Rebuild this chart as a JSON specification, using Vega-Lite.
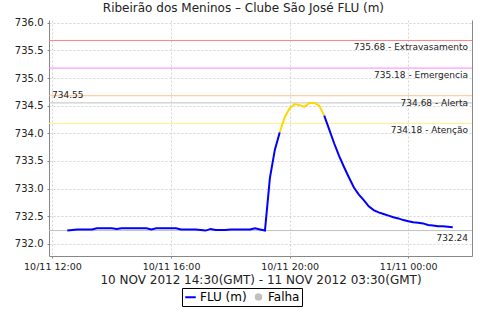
{
  "$schema": "https://vega.github.io/schema/vega-lite/v6.json",
  "width": 423,
  "height": 236,
  "autosize": {"type": "none"},
  "padding": {"left": 49, "top": 20, "right": 8, "bottom": 64},
  "background": "white",
  "title": {
    "text": "Ribeirão dos Meninos – Clube São José FLU (m)",
    "font": "DejaVu Sans",
    "fontSize": 12,
    "fontWeight": "normal",
    "color": "#222222",
    "anchor": "middle",
    "frame": "bounds",
    "offset": 3
  },
  "config": {
    "font": "DejaVu Sans",
    "view": {"stroke": null},
    "axis": {
      "gridDash": [2, 2],
      "gridColor": "#d4d4d4",
      "domainColor": "#888888",
      "tickColor": "#888888",
      "tickSize": 2,
      "labelColor": "#222222",
      "labelFont": "DejaVu Sans",
      "titleFont": "DejaVu Sans"
    }
  },
  "datasets": {
    "serie": [
      {"t": "2012-11-10T12:30:00Z", "v": 732.24, "serie": "FLU (m)", "seg": 1},
      {"t": "2012-11-10T12:40:00Z", "v": 732.25, "serie": "FLU (m)", "seg": 1},
      {"t": "2012-11-10T12:50:00Z", "v": 732.26, "serie": "FLU (m)", "seg": 1},
      {"t": "2012-11-10T13:00:00Z", "v": 732.26, "serie": "FLU (m)", "seg": 1},
      {"t": "2012-11-10T13:10:00Z", "v": 732.26, "serie": "FLU (m)", "seg": 1},
      {"t": "2012-11-10T13:20:00Z", "v": 732.26, "serie": "FLU (m)", "seg": 1},
      {"t": "2012-11-10T13:30:00Z", "v": 732.28, "serie": "FLU (m)", "seg": 1},
      {"t": "2012-11-10T13:40:00Z", "v": 732.28, "serie": "FLU (m)", "seg": 1},
      {"t": "2012-11-10T13:50:00Z", "v": 732.28, "serie": "FLU (m)", "seg": 1},
      {"t": "2012-11-10T14:00:00Z", "v": 732.28, "serie": "FLU (m)", "seg": 1},
      {"t": "2012-11-10T14:10:00Z", "v": 732.27, "serie": "FLU (m)", "seg": 1},
      {"t": "2012-11-10T14:20:00Z", "v": 732.28, "serie": "FLU (m)", "seg": 1},
      {"t": "2012-11-10T14:30:00Z", "v": 732.28, "serie": "FLU (m)", "seg": 1},
      {"t": "2012-11-10T14:40:00Z", "v": 732.28, "serie": "FLU (m)", "seg": 1},
      {"t": "2012-11-10T14:50:00Z", "v": 732.28, "serie": "FLU (m)", "seg": 1},
      {"t": "2012-11-10T15:00:00Z", "v": 732.28, "serie": "FLU (m)", "seg": 1},
      {"t": "2012-11-10T15:10:00Z", "v": 732.28, "serie": "FLU (m)", "seg": 1},
      {"t": "2012-11-10T15:20:00Z", "v": 732.26, "serie": "FLU (m)", "seg": 1},
      {"t": "2012-11-10T15:30:00Z", "v": 732.28, "serie": "FLU (m)", "seg": 1},
      {"t": "2012-11-10T15:40:00Z", "v": 732.28, "serie": "FLU (m)", "seg": 1},
      {"t": "2012-11-10T15:50:00Z", "v": 732.28, "serie": "FLU (m)", "seg": 1},
      {"t": "2012-11-10T16:00:00Z", "v": 732.28, "serie": "FLU (m)", "seg": 1},
      {"t": "2012-11-10T16:10:00Z", "v": 732.28, "serie": "FLU (m)", "seg": 1},
      {"t": "2012-11-10T16:20:00Z", "v": 732.26, "serie": "FLU (m)", "seg": 1},
      {"t": "2012-11-10T16:30:00Z", "v": 732.26, "serie": "FLU (m)", "seg": 1},
      {"t": "2012-11-10T16:40:00Z", "v": 732.26, "serie": "FLU (m)", "seg": 1},
      {"t": "2012-11-10T16:50:00Z", "v": 732.26, "serie": "FLU (m)", "seg": 1},
      {"t": "2012-11-10T17:00:00Z", "v": 732.25, "serie": "FLU (m)", "seg": 1},
      {"t": "2012-11-10T17:10:00Z", "v": 732.24, "serie": "FLU (m)", "seg": 1},
      {"t": "2012-11-10T17:20:00Z", "v": 732.27, "serie": "FLU (m)", "seg": 1},
      {"t": "2012-11-10T17:30:00Z", "v": 732.25, "serie": "FLU (m)", "seg": 1},
      {"t": "2012-11-10T17:40:00Z", "v": 732.25, "serie": "FLU (m)", "seg": 1},
      {"t": "2012-11-10T17:50:00Z", "v": 732.25, "serie": "FLU (m)", "seg": 1},
      {"t": "2012-11-10T18:00:00Z", "v": 732.26, "serie": "FLU (m)", "seg": 1},
      {"t": "2012-11-10T18:10:00Z", "v": 732.26, "serie": "FLU (m)", "seg": 1},
      {"t": "2012-11-10T18:20:00Z", "v": 732.26, "serie": "FLU (m)", "seg": 1},
      {"t": "2012-11-10T18:30:00Z", "v": 732.26, "serie": "FLU (m)", "seg": 1},
      {"t": "2012-11-10T18:40:00Z", "v": 732.26, "serie": "FLU (m)", "seg": 1},
      {"t": "2012-11-10T18:50:00Z", "v": 732.28, "serie": "FLU (m)", "seg": 1},
      {"t": "2012-11-10T19:00:00Z", "v": 732.26, "serie": "FLU (m)", "seg": 1},
      {"t": "2012-11-10T19:10:00Z", "v": 732.24, "serie": "FLU (m)", "seg": 1},
      {"t": "2012-11-10T19:20:00Z", "v": 733.19, "serie": "FLU (m)", "seg": 1},
      {"t": "2012-11-10T19:30:00Z", "v": 733.70, "serie": "FLU (m)", "seg": 1},
      {"t": "2012-11-10T19:40:00Z", "v": 734.02, "serie": "FLU (m)", "seg": 1},
      {"t": "2012-11-10T19:40:00Z", "v": 734.02, "serie": "Atenção", "seg": 2},
      {"t": "2012-11-10T19:50:00Z", "v": 734.29, "serie": "Atenção", "seg": 2},
      {"t": "2012-11-10T20:00:00Z", "v": 734.45, "serie": "Atenção", "seg": 2},
      {"t": "2012-11-10T20:10:00Z", "v": 734.53, "serie": "Atenção", "seg": 2},
      {"t": "2012-11-10T20:20:00Z", "v": 734.51, "serie": "Atenção", "seg": 2},
      {"t": "2012-11-10T20:30:00Z", "v": 734.48, "serie": "Atenção", "seg": 2},
      {"t": "2012-11-10T20:40:00Z", "v": 734.55, "serie": "Atenção", "seg": 2},
      {"t": "2012-11-10T20:50:00Z", "v": 734.55, "serie": "Atenção", "seg": 2},
      {"t": "2012-11-10T21:00:00Z", "v": 734.50, "serie": "Atenção", "seg": 2},
      {"t": "2012-11-10T21:10:00Z", "v": 734.32, "serie": "Atenção", "seg": 2},
      {"t": "2012-11-10T21:10:00Z", "v": 734.32, "serie": "FLU (m)", "seg": 3},
      {"t": "2012-11-10T21:20:00Z", "v": 734.07, "serie": "FLU (m)", "seg": 3},
      {"t": "2012-11-10T21:30:00Z", "v": 733.82, "serie": "FLU (m)", "seg": 3},
      {"t": "2012-11-10T21:40:00Z", "v": 733.59, "serie": "FLU (m)", "seg": 3},
      {"t": "2012-11-10T21:50:00Z", "v": 733.39, "serie": "FLU (m)", "seg": 3},
      {"t": "2012-11-10T22:00:00Z", "v": 733.20, "serie": "FLU (m)", "seg": 3},
      {"t": "2012-11-10T22:10:00Z", "v": 733.02, "serie": "FLU (m)", "seg": 3},
      {"t": "2012-11-10T22:20:00Z", "v": 732.89, "serie": "FLU (m)", "seg": 3},
      {"t": "2012-11-10T22:30:00Z", "v": 732.79, "serie": "FLU (m)", "seg": 3},
      {"t": "2012-11-10T22:40:00Z", "v": 732.68, "serie": "FLU (m)", "seg": 3},
      {"t": "2012-11-10T22:50:00Z", "v": 732.61, "serie": "FLU (m)", "seg": 3},
      {"t": "2012-11-10T23:00:00Z", "v": 732.57, "serie": "FLU (m)", "seg": 3},
      {"t": "2012-11-10T23:10:00Z", "v": 732.54, "serie": "FLU (m)", "seg": 3},
      {"t": "2012-11-10T23:20:00Z", "v": 732.51, "serie": "FLU (m)", "seg": 3},
      {"t": "2012-11-10T23:30:00Z", "v": 732.48, "serie": "FLU (m)", "seg": 3},
      {"t": "2012-11-10T23:40:00Z", "v": 732.46, "serie": "FLU (m)", "seg": 3},
      {"t": "2012-11-10T23:50:00Z", "v": 732.43, "serie": "FLU (m)", "seg": 3},
      {"t": "2012-11-11T00:00:00Z", "v": 732.41, "serie": "FLU (m)", "seg": 3},
      {"t": "2012-11-11T00:10:00Z", "v": 732.39, "serie": "FLU (m)", "seg": 3},
      {"t": "2012-11-11T00:20:00Z", "v": 732.38, "serie": "FLU (m)", "seg": 3},
      {"t": "2012-11-11T00:30:00Z", "v": 732.37, "serie": "FLU (m)", "seg": 3},
      {"t": "2012-11-11T00:40:00Z", "v": 732.34, "serie": "FLU (m)", "seg": 3},
      {"t": "2012-11-11T00:50:00Z", "v": 732.33, "serie": "FLU (m)", "seg": 3},
      {"t": "2012-11-11T01:00:00Z", "v": 732.32, "serie": "FLU (m)", "seg": 3},
      {"t": "2012-11-11T01:10:00Z", "v": 732.32, "serie": "FLU (m)", "seg": 3},
      {"t": "2012-11-11T01:20:00Z", "v": 732.31, "serie": "FLU (m)", "seg": 3},
      {"t": "2012-11-11T01:30:00Z", "v": 732.30, "serie": "FLU (m)", "seg": 3}
    ],
    "limites": [
      {"v": 735.68, "nivel": "Extravasamento", "label": "735.68 - Extravasamento", "lado": "direita"},
      {"v": 735.18, "nivel": "Emergencia", "label": "735.18 - Emergencia", "lado": "direita"},
      {"v": 734.68, "nivel": "Alerta", "label": "734.68 - Alerta", "lado": "direita"},
      {"v": 734.18, "nivel": "Atenção", "label": "734.18 - Atenção", "lado": "direita"},
      {"v": 734.55, "nivel": "Máximo", "label": "734.55", "lado": "esquerda"},
      {"v": 732.24, "nivel": "Mínimo", "label": "732.24", "lado": "direita"}
    ]
  },
  "layer": [
    {
      "data": {"name": "serie"},
      "mark": {"type": "line", "strokeWidth": 2, "opacity": 0},
      "encoding": {
        "x": {
          "field": "t", "type": "temporal",
          "scale": {"type": "utc", "domain": [
            {"year": 2012, "month": 11, "date": 10, "hours": 11, "minutes": 53, "utc": true},
            {"year": 2012, "month": 11, "date": 11, "hours": 2, "minutes": 9, "utc": true}
          ]},
          "axis": {
            "values": [
              {"year": 2012, "month": 11, "date": 10, "hours": 12, "utc": true},
              {"year": 2012, "month": 11, "date": 10, "hours": 16, "utc": true},
              {"year": 2012, "month": 11, "date": 10, "hours": 20, "utc": true},
              {"year": 2012, "month": 11, "date": 11, "hours": 0, "utc": true}
            ],
            "labelExpr": "utcFormat(datum.value, '%d/%m %H:%M')",
            "labelFontSize": 9.5,
            "labelPadding": 3,
            "labelFlush": false,
            "labelOverlap": false,
            "grid": true,
            "title": "10 NOV 2012 14:30(GMT) - 11 NOV 2012 03:30(GMT)",
            "titleFontSize": 12,
            "titleFontWeight": "normal",
            "titleColor": "#222222",
            "titlePadding": 4
          }
        },
        "y": {
          "field": "v", "type": "quantitative",
          "scale": {"domain": [731.78, 736.05], "zero": false, "nice": false},
          "axis": {
            "orient": "left",
            "values": [732, 732.5, 733, 733.5, 734, 734.5, 735, 735.5, 736],
            "format": ".1f",
            "labelFontSize": 10,
            "labelPadding": 4,
            "grid": true,
            "title": null
          }
        }
      }
    },
    {
      "data": {"name": "limites"},
      "mark": {"type": "rule", "strokeWidth": 1},
      "encoding": {
        "y": {"field": "v", "type": "quantitative", "scale": {"domain": [731.78, 736.05], "zero": false, "nice": false}, "axis": null},
        "stroke": {
          "field": "nivel", "type": "nominal",
          "scale": {"domain": ["Extravasamento", "Emergencia", "Alerta", "Atenção", "Máximo", "Mínimo"], "range": ["#FF8080", "#FF80FF", "#FFC080", "#FFEE88", "#C0C0C0", "#C0C0C0"]},
          "legend": null
        }
      }
    },
    {
      "data": {"name": "limites"},
      "transform": [{"filter": "datum.lado === 'direita'"}],
      "mark": {"type": "text", "align": "right", "baseline": "top", "dx": -4, "dy": 3, "fontSize": 9, "color": "#222222", "font": "DejaVu Sans"},
      "encoding": {
        "x": {"datum": {"year": 2012, "month": 11, "date": 11, "hours": 2, "minutes": 9, "utc": true}, "type": "temporal"},
        "y": {"field": "v", "type": "quantitative", "scale": {"domain": [731.78, 736.05], "zero": false, "nice": false}, "axis": null},
        "text": {"field": "label"}
      }
    },
    {
      "data": {"name": "limites"},
      "transform": [{"filter": "datum.lado === 'esquerda'"}],
      "mark": {"type": "text", "align": "left", "baseline": "bottom", "dx": 3, "dy": -3, "fontSize": 9, "color": "#222222", "font": "DejaVu Sans"},
      "encoding": {
        "x": {"datum": {"year": 2012, "month": 11, "date": 10, "hours": 11, "minutes": 53, "utc": true}, "type": "temporal"},
        "y": {"field": "v", "type": "quantitative", "scale": {"domain": [731.78, 736.05], "zero": false, "nice": false}, "axis": null},
        "text": {"field": "label"}
      }
    },
    {
      "data": {"name": "serie"},
      "mark": {"type": "line", "strokeWidth": 2},
      "encoding": {
        "x": {"field": "t", "type": "temporal"},
        "y": {"field": "v", "type": "quantitative", "scale": {"domain": [731.78, 736.05], "zero": false, "nice": false}, "axis": null},
        "color": {
          "field": "serie", "type": "nominal",
          "scale": {"domain": ["FLU (m)", "Falha", "Atenção"], "range": ["#0000FF", "#C0C0C0", "#FFD800"]},
          "legend": {
            "orient": "none",
            "legendX": 133,
            "legendY": 268,
            "direction": "horizontal",
            "title": null,
            "values": ["FLU (m)", "Falha"],
            "labelFontSize": 12,
            "labelColor": "#000000",
            "labelFont": "DejaVu Sans",
            "strokeColor": "#000000",
            "padding": 2,
            "columnPadding": 4,
            "labelOffset": 3,
            "symbolStrokeWidth": 2,
            "symbolSize": 110,
            "encode": {
              "symbols": {
                "update": {
                  "shape": {"signal": "datum.value === 'Falha' ? 'circle' : 'stroke'"},
                  "size": {"signal": "datum.value === 'Falha' ? 30 : 110"},
                  "fill": {"signal": "datum.value === 'Falha' ? '#C0C0C0' : 'transparent'"},
                  "stroke": {"signal": "datum.value === 'Falha' ? 'transparent' : '#0000FF'"}
                }
              }
            }
          }
        },
        "detail": {"field": "seg", "type": "nominal"}
      }
    },
    {
      "data": {"name": "limites"},
      "mark": {"type": "rule", "opacity": 0},
      "encoding": {
        "y": {
          "field": "v", "type": "quantitative",
          "scale": {"domain": [731.78, 736.05], "zero": false, "nice": false},
          "axis": {"orient": "right", "labels": false, "ticks": false, "grid": false, "domain": true, "domainColor": "#888888", "title": null}
        }
      }
    }
  ],
  "resolve": {"scale": {"y": "independent"}}
}
